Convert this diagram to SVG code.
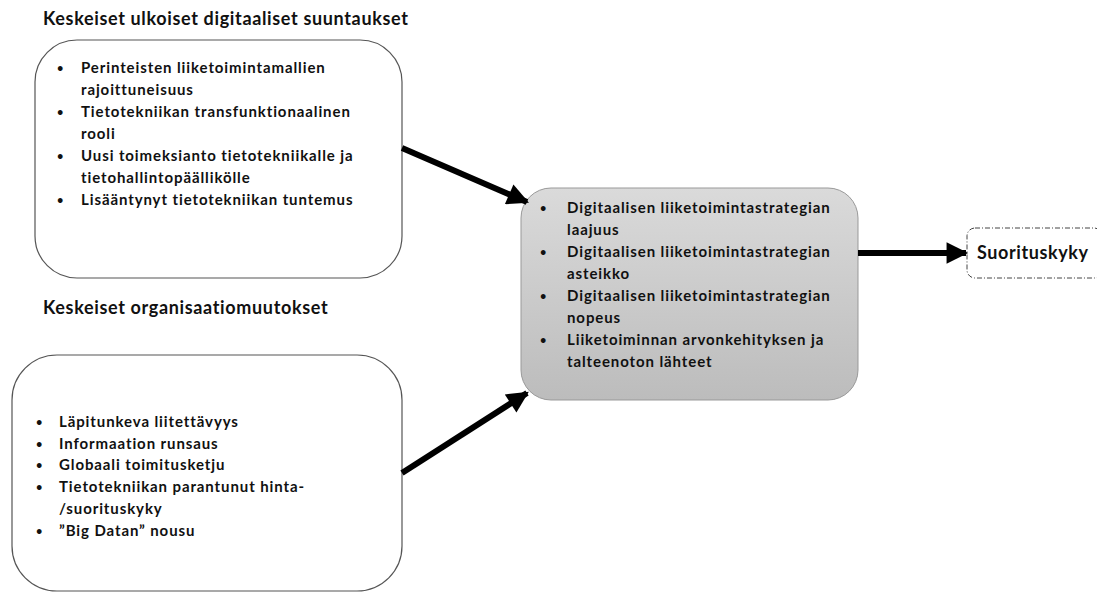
<svg xmlns="http://www.w3.org/2000/svg" width="1097" height="593" viewBox="0 0 1097 593">
<style>
text{font-family:Lato,"Open Sans","Liberation Sans",sans-serif;font-weight:bold;fill:#111}
.t{font-size:18px;letter-spacing:0.65px}
.b{font-size:15px;letter-spacing:0.9px}
.d{font-size:11px;letter-spacing:0}
.box{fill:#fff;stroke:#555;stroke-width:1.2}
.arr{stroke:#000;stroke-width:6;fill:none}
</style>
<defs>
<linearGradient id="g" x1="0" y1="0" x2="0" y2="1">
<stop offset="0" stop-color="#dadada"/>
<stop offset="1" stop-color="#bcbcbc"/>
</linearGradient>
<marker id="ah" viewBox="0 0 10 10" refX="9" refY="5" markerWidth="4" markerHeight="3.6" orient="auto" markerUnits="strokeWidth">
<path d="M0,0 L10,5 L0,10 z" fill="#000"/>
</marker>
</defs>
<g id="title1"><text class="t" x="43" y="25">Keskeiset ulkoiset digitaaliset suuntaukset</text></g>
<g id="title2"><text class="t" x="43" y="314">Keskeiset organisaatiomuutokset</text></g>
<g id="box1">
<rect class="box" x="35" y="40" width="367" height="238" rx="42"/>
<text class="b"><tspan class="d" x="57" y="72">•</tspan><tspan x="81" y="73">Perinteisten liiketoimintamallien</tspan>
<tspan x="81" y="95">rajoittuneisuus</tspan>
<tspan class="d" x="57" y="116">•</tspan><tspan x="81" y="117">Tietotekniikan transfunktionaalinen</tspan>
<tspan x="81" y="139">rooli</tspan>
<tspan class="d" x="57" y="160">•</tspan><tspan x="81" y="161">Uusi toimeksianto tietotekniikalle ja</tspan>
<tspan x="81" y="183">tietohallintopäällikölle</tspan>
<tspan class="d" x="57" y="204">•</tspan><tspan x="81" y="205">Lisääntynyt tietotekniikan tuntemus</tspan></text>
</g>
<g id="box2">
<rect class="box" x="12" y="355" width="390" height="236" rx="45"/>
<text class="b"><tspan class="d" x="36" y="426">•</tspan><tspan x="59" y="427">Läpitunkeva liitettävyys</tspan>
<tspan class="d" x="36" y="448">•</tspan><tspan x="59" y="449">Informaation runsaus</tspan>
<tspan class="d" x="36" y="469">•</tspan><tspan x="59" y="470">Globaali toimitusketju</tspan>
<tspan class="d" x="36" y="491">•</tspan><tspan x="59" y="492">Tietotekniikan parantunut hinta-</tspan>
<tspan x="59" y="514">/suorituskyky</tspan>
<tspan class="d" x="36" y="535">•</tspan><tspan x="59" y="536">”Big Datan” nousu</tspan></text>
</g>
<g id="center">
<rect x="521" y="188" width="337" height="212" rx="30" fill="url(#g)" stroke="#999" stroke-width="1"/>
<text class="b"><tspan class="d" x="540" y="212">•</tspan><tspan x="567" y="213">Digitaalisen liiketoimintastrategian</tspan>
<tspan x="567" y="235">laajuus</tspan>
<tspan class="d" x="540" y="256">•</tspan><tspan x="567" y="257">Digitaalisen liiketoimintastrategian</tspan>
<tspan x="567" y="279">asteikko</tspan>
<tspan class="d" x="540" y="300">•</tspan><tspan x="567" y="301">Digitaalisen liiketoimintastrategian</tspan>
<tspan x="567" y="323">nopeus</tspan>
<tspan class="d" x="540" y="344">•</tspan><tspan x="567" y="345">Liiketoiminnan arvonkehityksen ja</tspan>
<tspan x="567" y="367">talteenoton lähteet</tspan></text>
</g>
<g id="result">
<rect x="967" y="228" width="135" height="50" rx="8" fill="#fff" stroke="#444" stroke-width="1" stroke-dasharray="5,2,1,2"/>
<text x="977" y="259" style="font-size:18px;letter-spacing:0.6px">Suorituskyky</text>
</g>
<g id="connectors">
<line class="arr" x1="402" y1="148" x2="527" y2="202" marker-end="url(#ah)"/>
<line class="arr" x1="402" y1="473" x2="527" y2="393" marker-end="url(#ah)"/>
<line class="arr" x1="858" y1="253" x2="966" y2="253" marker-end="url(#ah)"/>
</g>
</svg>
